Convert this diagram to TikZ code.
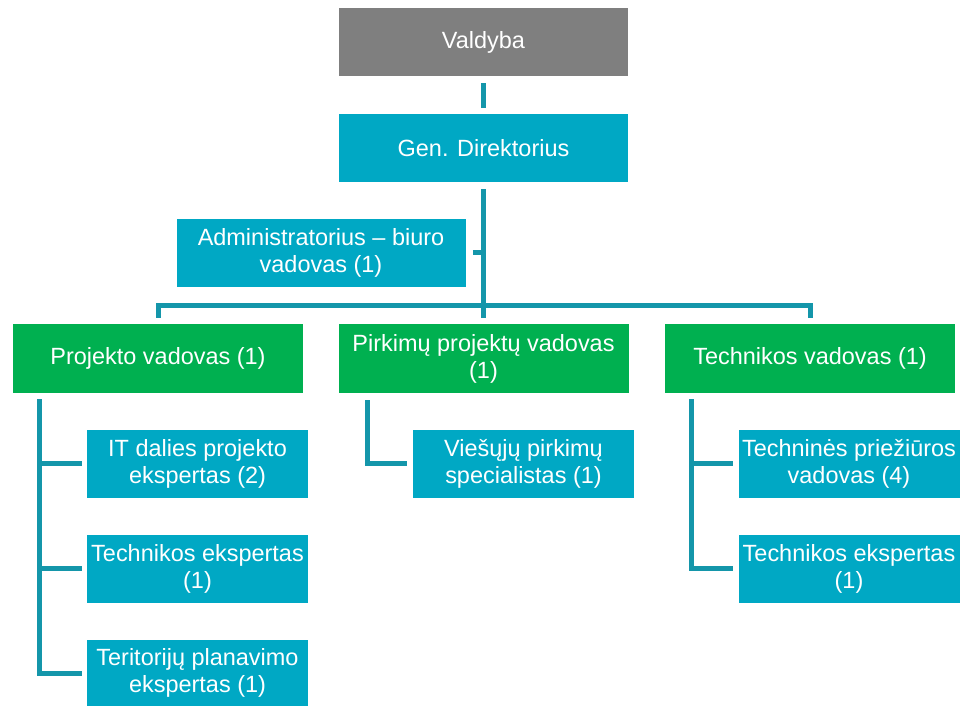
\documentclass[tikz,border=0pt]{standalone}
\usepackage{fontspec}
\setmainfont{Liberation Sans}
\usetikzlibrary{calc,positioning}
\definecolor{boardgray}{HTML}{7F7F7F}
\definecolor{boxteal}{HTML}{00A8C4}
\definecolor{boxgreen}{HTML}{00B050}
\definecolor{linkteal}{HTML}{1496AA}
\tikzset{
  box/.style={rectangle, inner sep=0pt, text=white, align=center,
    font=\fontsize{17.6}{20.3}\selectfont},
  topbox/.style={box, minimum width=216.75pt, minimum height=51pt},
  leadbox/.style={box, fill=boxgreen, minimum width=217.5pt, minimum height=51.75pt},
  staffbox/.style={box, fill=boxteal, minimum width=165.75pt, minimum height=51pt},
  link/.style={draw=linkteal, line width=3.75pt}
}
\begin{document}
\begin{tikzpicture}[x=0.75pt,y=-0.75pt]
\useasboundingbox (0,0) rectangle (961,706);

\node[topbox, fill=boardgray] (board) at (483.5,42) {Valdyba};
\node[topbox, fill=boxteal] (ceo) at (483.5,148) {Gen. Direktorius};
\node[topbox, fill=boxteal] (admin) at (321,253) {Administratorius -- biuro\\vadovas (1)};

\node[leadbox] (proj) at (158,358.5) {Projekto vadovas (1)};
\node[leadbox] (purch) at (483.5,358.5) {Pirkimų projektų vadovas\\(1)};
\node[leadbox] (tech) at (810,358.5) {Technikos vadovas (1)};

\node[staffbox] (itexp) at (197.5,463.5) {IT dalies projekto\\ekspertas (2)};
\node[staffbox] (techexpa) at (197.5,568.5) {Technikos ekspertas\\(1)};
\node[staffbox, minimum height=49.5pt] (terexp) at (197.5,673) {Teritorijų planavimo\\ekspertas (1)};
\node[staffbox] (purchspec) at (523.5,463.5) {Viešųjų pirkimų\\specialistas (1)};
\node[staffbox] (maintlead) at (849,463.5) {Techninės priežiūros\\vadovas (4)};
\node[staffbox] (techexpb) at (849,568.5) {Technikos ekspertas\\(1)};

\draw[link, shorten <=5.25pt, shorten >=4.5pt] (board) -- (ceo);
\draw[link, shorten <=5.25pt, shorten >=4.5pt] (ceo) -- (purch);
\draw[link, shorten <=5.25pt] (admin.east) -- (admin.east -| ceo.south);
\draw[link] ($(proj.north)+(0,-6)$) -- ++(0,-12) -| ($(tech.north)+(0,-6)$);

\coordinate (projtop) at ($(proj.south west)+(27,6)$);
\coordinate (purchtop) at ($(purch.south west)+(29,7)$);
\coordinate (techtop) at ($(tech.south west)+(27,6)$);

\draw[link, shorten >=3.75pt] (projtop) |- (terexp.west);
\draw[link, shorten >=3.75pt] (projtop |- itexp.west) -- (itexp.west);
\draw[link, shorten >=3.75pt] (projtop |- techexpa.west) -- (techexpa.west);

\draw[link, shorten >=4.5pt] (purchtop) |- (purchspec.west);

\draw[link, shorten >=3.75pt] (techtop) |- (techexpb.west);
\draw[link, shorten >=3.75pt] (techtop |- maintlead.west) -- (maintlead.west);

\end{tikzpicture}
\end{document}
